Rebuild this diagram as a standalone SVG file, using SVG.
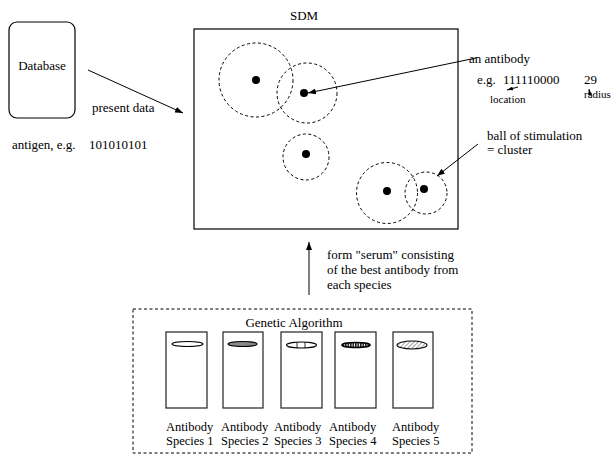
<svg xmlns="http://www.w3.org/2000/svg" width="613" height="454" viewBox="0 0 613 454">
<style>
text{font-family:"Liberation Serif","Times New Roman",serif;font-size:13px;fill:#000}
.sm{font-size:11px}
.sp{font-size:12.5px}
.box{fill:none;stroke:#000;stroke-width:1.2}
.ball{fill:none;stroke:#000;stroke-width:1;stroke-dasharray:3,2.5}
.dot{fill:#000}
.sbox{fill:#fff;stroke:#222;stroke-width:1.2}
.ell{stroke:#000;stroke-width:1.1}
.conn{fill:none;stroke:#000;stroke-width:1}
</style>
<defs>
<marker id="ah" markerWidth="8" markerHeight="6" refX="8" refY="3" orient="auto" markerUnits="userSpaceOnUse">
<path d="M0,0 L8,3 L0,6 Z" fill="#000"/>
</marker>
<marker id="ahs" markerWidth="6" markerHeight="4" refX="6" refY="2" orient="auto" markerUnits="userSpaceOnUse">
<path d="M0,0 L6,2 L0,4 Z" fill="#000"/>
</marker>
<pattern id="hatch" width="3" height="3" patternUnits="userSpaceOnUse" patternTransform="rotate(45)">
<rect width="3" height="3" fill="#fff"/>
<line x1="0" y1="0" x2="0" y2="3" stroke="#444" stroke-width="1"/>
</pattern>
<pattern id="stripe" width="2.5" height="6" patternUnits="userSpaceOnUse">
<rect width="2.5" height="6" fill="#fff"/>
<rect width="1.5" height="6" fill="#111"/>
</pattern>
</defs>

<g id="database">
<rect x="9" y="22" width="66" height="96" rx="8" ry="8" class="box"/>
<text x="42" y="70" text-anchor="middle">Database</text>
</g>
<text x="92" y="112">present data</text>
<text x="12" y="149">antigen, e.g.</text>
<text x="89" y="149">101010101</text>

<g id="sdm">
<text x="304" y="20" text-anchor="middle">SDM</text>
<rect x="194" y="29" width="264" height="200" class="box"/>
<circle cx="256" cy="80" r="37" class="ball"/>
<circle cx="256" cy="80" r="4" class="dot"/>
<circle cx="307" cy="93" r="30" class="ball"/>
<circle cx="304" cy="93" r="4" class="dot"/>
<circle cx="306" cy="157" r="23" class="ball"/>
<circle cx="306" cy="154" r="4" class="dot"/>
<circle cx="387" cy="193" r="30.5" class="ball"/>
<circle cx="387" cy="191" r="4" class="dot"/>
<circle cx="426" cy="193" r="21" class="ball"/>
<circle cx="424" cy="189" r="4" class="dot"/>
</g>

<g id="antibody-label">
<text x="469" y="63">an antibody</text>
<text x="477" y="84">e.g.</text>
<text x="503" y="84">111110000</text>
<text x="584" y="84">29</text>
<text x="490" y="103" class="sm">location</text>
<text x="584" y="98" class="sm">radius</text>
</g>

<g id="cluster-label">
<text x="487" y="140">ball of stimulation</text>
<text x="487" y="154">= cluster</text>
</g>

<g id="serum-label">
<text x="327" y="259">form "serum" consisting</text>
<text x="327" y="274">of the best antibody from</text>
<text x="327" y="289">each species</text>
</g>

<g id="genetic-algorithm">
<rect x="133" y="309" width="339" height="144" class="ball"/>
<text x="294" y="327" text-anchor="middle">Genetic Algorithm</text>
</g>

<g id="species1">
<rect x="166" y="332" width="41" height="76" class="sbox"/>
<ellipse cx="187.5" cy="344" rx="15.5" ry="2.5" fill="#fff" class="ell"/>
<text x="166" y="431" class="sp">Antibody</text>
<text x="166" y="445" class="sp">Species 1</text>
</g>
<g id="species2">
<rect x="223" y="332" width="40" height="76" class="sbox"/>
<ellipse cx="242.5" cy="344" rx="14.5" ry="2.5" fill="#888" class="ell"/>
<text x="221" y="431" class="sp">Antibody</text>
<text x="221" y="445" class="sp">Species 2</text>
</g>
<g id="species3">
<rect x="281" y="332" width="41" height="76" class="sbox"/>
<ellipse cx="301.5" cy="345" rx="15" ry="3" fill="#fff" class="ell"/>
<line x1="297" y1="342" x2="297" y2="348" stroke="#000" stroke-width="0.8"/>
<line x1="305" y1="342" x2="305" y2="348" stroke="#000" stroke-width="0.8"/>
<text x="274" y="431" class="sp">Antibody</text>
<text x="274" y="445" class="sp">Species 3</text>
</g>
<g id="species4">
<rect x="335" y="332" width="41" height="76" class="sbox"/>
<ellipse cx="356" cy="345" rx="14" ry="2.5" fill="url(#stripe)" stroke="#000" stroke-width="1.6"/>
<text x="329" y="431" class="sp">Antibody</text>
<text x="329" y="445" class="sp">Species 4</text>
</g>
<g id="species5">
<rect x="393" y="332" width="40" height="76" class="sbox"/>
<ellipse cx="412" cy="345" rx="15" ry="4" fill="url(#hatch)" class="ell"/>
<text x="392" y="431" class="sp">Antibody</text>
<text x="392" y="445" class="sp">Species 5</text>
</g>

<g id="connectors">
<line x1="88" y1="70" x2="183" y2="113" class="conn" marker-end="url(#ah)"/>
<line x1="476" y1="58" x2="308" y2="93" class="conn" marker-end="url(#ah)"/>
<line x1="478" y1="144" x2="437" y2="176" class="conn" marker-end="url(#ah)"/>
<line x1="309" y1="295" x2="309" y2="242" class="conn" marker-end="url(#ah)"/>
<line x1="518" y1="87" x2="507" y2="90" class="conn" marker-end="url(#ahs)"/>
<line x1="590" y1="95" x2="589" y2="89" class="conn" marker-end="url(#ahs)"/>
</g>
</svg>
